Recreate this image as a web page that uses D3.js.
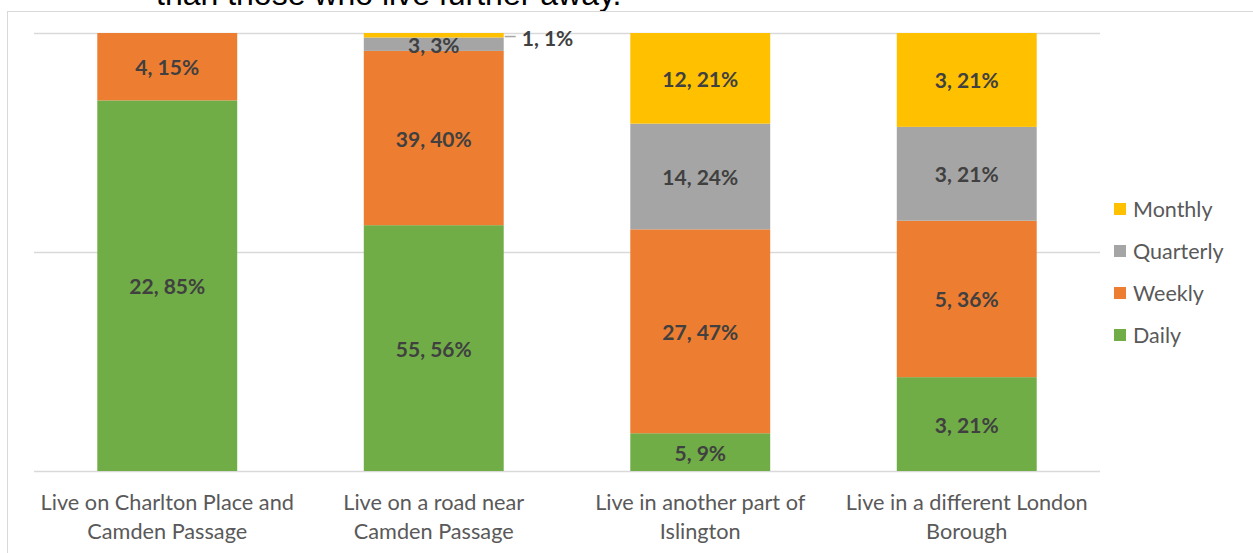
<!DOCTYPE html>
<html>
<head>
<meta charset="utf-8">
<script src="https://cdn.jsdelivr.net/npm/d3@7"></script>
<style>
  body { margin: 0; background: #fff; }
  svg { display: block; }
</style>
</head>
<body>
<div id="chart-area"></div>
<script>
// counts per group
const categories = [
    ["Live on Charlton Place and", "Camden Passage"],
    ["Live on a road near", "Camden Passage"],
    ["Live in another part of", "Islington"],
    ["Live in a different London", "Borough"]
];
const seriesNames = ["Daily", "Weekly", "Quarterly", "Monthly"];
const daily = [22, 55, 5, 3];
const weekly = [4, 39, 27, 5];
const quarterly = [0, 3, 14, 3];
const monthly = [0, 1, 12, 3];
const yTicks = [0, 0.5, 1];
const headline = "than those who live further away.";

const colors = {Daily: "#70AD47", Weekly: "#ED7D31", Quarterly: "#A5A5A5", Monthly: "#FFC000"};
const width = 1253, height = 553;
const labelFont = "Lato, 'Open Sans', sans-serif";

const rows = categories.map((c, i) => ({
    key: i,
    Daily: daily[i], Weekly: weekly[i], Quarterly: quarterly[i], Monthly: monthly[i]
}));
rows.forEach(r => r.total = seriesNames.reduce((s, k) => s + r[k], 0));

const stacked = d3.stack()
    .keys(seriesNames)
    .value((d, k) => d[k] / d.total)(rows);

const svg = d3.select("#chart-area").append("svg")
    .attr("width", width)
    .attr("height", height);

// bit of the document text above the chart (cut off at the top, as in the source)
svg.append("text")
    .attr("x", 156)
    .attr("y", 5)
    .attr("font-family", "'Liberation Sans', Arial, sans-serif")
    .attr("font-size", 32)
    .attr("fill", "#000")
    .text(headline);

// chart frame
svg.append("rect")
    .attr("x", 7.5).attr("y", 11.5)
    .attr("width", 1300).attr("height", 600)
    .attr("fill", "none")
    .attr("stroke", "#d9d9d9");

const x = d3.scaleBand()
    .domain(rows.map(d => d.key))
    .range([34, 1100])
    .paddingInner(0.475)
    .paddingOuter(0.2375);

const y = d3.scaleLinear()
    .domain([0, 1])
    .range([471, 33]);

svg.append("g").selectAll("line")
    .data(yTicks)
    .join("line")
    .attr("x1", 34).attr("x2", 1100)
    .attr("y1", d => Math.round(y(d)) + 0.5)
    .attr("y2", d => Math.round(y(d)) + 0.5)
    .attr("stroke", "#d9d9d9")
    .attr("stroke-width", 1.5);

const layer = svg.append("g").selectAll("g")
    .data(stacked)
    .join("g")
    .attr("fill", d => colors[d.key]);

layer.selectAll("rect")
    .data(d => d)
    .join("rect")
    .attr("x", d => x(d.data.key))
    .attr("width", x.bandwidth())
    .attr("y", d => y(d[1]))
    .attr("height", d => y(d[0]) - y(d[1]));

// data labels "count, pct%"
const labels = [];
stacked.forEach(s => s.forEach(d => {
    const count = d.data[s.key];
    if (count === 0) return;
    labels.push({
        key: d.data.key,
        text: count + ", " + Math.round(count / d.data.total * 100) + "%",
        mid: (y(d[0]) + y(d[1])) / 2,
        h: y(d[0]) - y(d[1])
    });
}));

const lab = svg.append("g")
    .attr("font-family", labelFont)
    .attr("font-weight", "bold")
    .attr("font-size", 21)
    .attr("fill", "#404040");

labels.forEach(l => {
    if (l.h < 8) {
        // too thin: put it outside with a leader line
        const x0 = x(l.key) + x.bandwidth();
        lab.append("line")
            .attr("x1", x0 + 1).attr("x2", x0 + 12)
            .attr("y1", l.mid + 1.3).attr("y2", l.mid + 1.3)
            .attr("stroke", "#a6a6a6").attr("stroke-width", 1.5);
        lab.append("text")
            .attr("x", x0 + 18)
            .attr("y", l.mid + 11)
            .text(l.text);
    } else {
        lab.append("text")
            .attr("x", x(l.key) + x.bandwidth() / 2)
            .attr("y", l.mid + 8.5)
            .attr("text-anchor", "middle")
            .text(l.text);
    }
});

// category labels
const cat = svg.append("g")
    .attr("font-family", labelFont)
    .attr("font-size", 21.7)
    .attr("fill", "#595959");

rows.forEach((r, i) => {
    const t = cat.append("text")
        .attr("text-anchor", "middle")
        .attr("x", x(r.key) + x.bandwidth() / 2);
    categories[i].forEach((line, j) => {
        t.append("tspan")
            .attr("x", x(r.key) + x.bandwidth() / 2)
            .attr("y", 509.5 + j * 29.5)
            .text(line);
    });
});

// legend, Monthly on top
const legend = svg.append("g")
    .attr("font-family", labelFont)
    .attr("font-size", 21.5)
    .attr("fill", "#595959");

seriesNames.slice().reverse().forEach((name, i) => {
    const cy = 209 + i * 42;
    legend.append("rect")
        .attr("x", 1114).attr("y", cy - 6)
        .attr("width", 12).attr("height", 12)
        .attr("fill", colors[name]);
    legend.append("text")
        .attr("x", 1133)
        .attr("y", cy + 7.5)
        .text(name);
});
</script>
</body>
</html>
